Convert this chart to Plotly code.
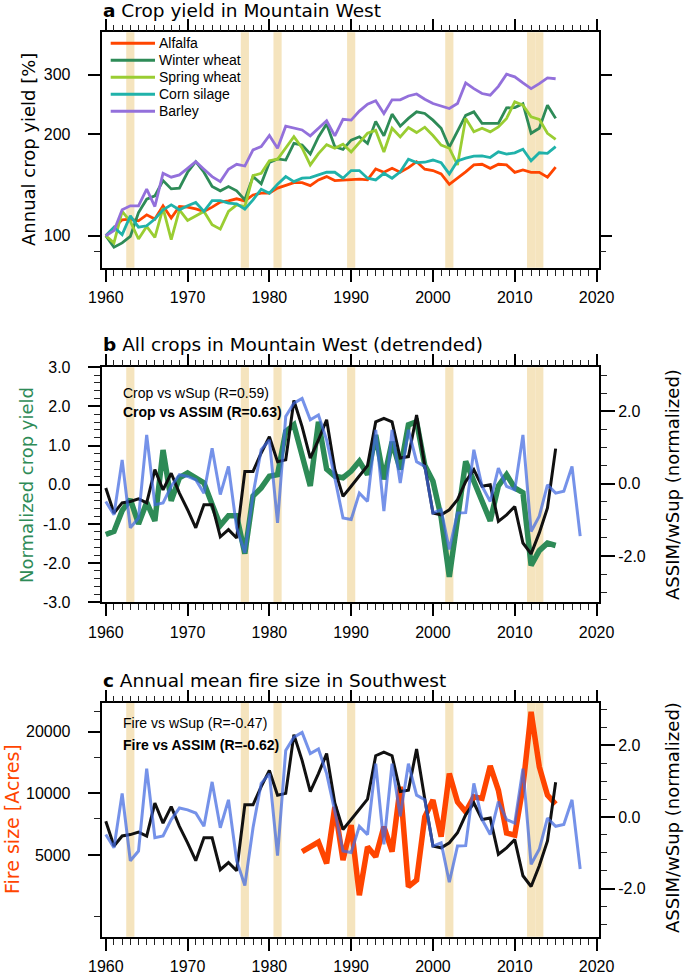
import plotly.graph_objects as go

# ---------------- data ----------------
years = list(range(1960, 2016))
years_wsup = list(range(1960, 2019))
years_fire = list(range(1984, 2016))

crop_names = ["Alfalfa", "Winter wheat", "Spring wheat", "Corn silage", "Barley"]
crop_colors = ["#FF4500", "#2E8B57", "#9ACD32", "#20B2AA", "#9370DB"]

alfalfa = [100, 105.4, 111.5, 112, 110.7, 115.3, 112, 122.6, 112.8, 122, 121.5, 120, 118, 121.5,
           125.7, 126.8, 128.6, 126.8, 132, 133.6, 133.6, 138.3, 140.7, 143.6, 143.6, 140.7, 146.3,
           149.6, 145.6, 146.3, 146.6, 147, 146.3, 157.6, 154.1, 158.3, 154.1, 159, 165.6, 157.3,
           155.9, 152.4, 142, 148, 154.6, 162, 162.7, 158.3, 162.7, 162, 154, 156.5, 154, 154, 149, 159.6]
winter_wheat = [100, 92.4, 95.2, 99.5, 117.1, 128.3, 131.2, 145.6, 137.6, 138.3, 154.1, 165.6, 154.1,
                139.8, 135.8, 139.8, 135.8, 127.7, 149.6, 142.4, 164.6, 168.8, 167.5, 187.6, 185.4,
                174.5, 196, 214, 183.5, 180, 191.9, 196.3, 187.6, 218, 197.5, 229, 211, 222.5, 232.6,
                230, 219.8, 208, 182.8, 204, 227, 232.6, 215, 215, 215, 239, 239.5, 246, 201, 208,
                243.5, 222.5]
spring_wheat = [100, 95.2, 118, 110.2, 97.8, 106.5, 98.9, 120.7, 97.3, 119.3, 111, 114.5, 118, 107.8,
                104.6, 118, 123.4, 122, 150.6, 153, 166.7, 168.4, 181.5, 196.3, 181.9, 162, 175, 186,
                181.5, 186.5, 177, 189, 201, 205, 177, 208, 196, 209, 202, 209.5, 198, 185.4, 181.5,
                162, 222.5, 203, 208, 203, 210, 222.5, 249, 243.5, 225, 221, 201, 192.9]
corn_silage = [100, 106, 100.7, 114.5, 106, 107, 112, 119.3, 123.4, 119.3, 122.6, 125.4, 118, 127, 127,
               124.9, 124.3, 119.9, 127.7, 137.3, 133.6, 142, 149.6, 144.6, 148, 148.6, 151.4, 154.1,
               154.1, 148, 155.9, 155.9, 148, 146.3, 153, 148, 154.6, 168.4, 164.6, 165, 167.5, 164.6,
               152.4, 166.4, 169.6, 172, 172.4, 170.4, 177.1, 174.5, 176, 180.4, 166.7, 176, 175.3, 183.6]
barley = [100, 103.5, 119.3, 122.6, 122.6, 137.3, 122, 153, 149, 151.4, 158.3, 165.6, 157.3, 149.6,
          144.6, 157.3, 162.7, 160.8, 179.4, 183.6, 198, 181.5, 211, 208, 205.6, 197.5, 208, 218.8,
          197.5, 221, 219.8, 233.8, 245, 250.8, 230, 252.4, 252.4, 259.2, 262.8, 253.5, 246.2, 241.9,
          238, 246.2, 283.3, 272.4, 263.6, 260.6, 276.8, 300.6, 295.3, 283.3, 272.4, 281.9, 293.3, 291.5]
crop_series = [alfalfa, winter_wheat, spring_wheat, corn_silage, barley]

crop_norm = [-1.27, -1.19, -0.66, -0.37, -1.0, -0.45, -0.92, 0.89, -0.41, 0.18, 0.3, 0.18, 0.05, -0.5,
             -1.04, -0.79, -0.79, -1.76, -0.29, -0.08, 0.22, 0.26, 1.36, 1.53, 0.68, -0.03, 1.61, 0.4,
             0.22, 0.18, 0.35, 0.6, 0.26, 1.27, 0.14, 1.1, 0.39, 1.53, 1.61, 0.5, 0.09, -0.83, -2.35,
             -0.75, 0.6, 0.09, -0.41, -0.92, -0.03, 0.26, -0.08, -0.2, -2.06, -1.68, -1.49, -1.55]
assim = [-0.12, -0.81, -0.53, -0.49, -0.42, -0.53, 0.39, -0.17, 0.29, -0.26, -0.72, -1.22, -0.58, -0.58,
         -1.47, -1.27, -1.50, 0.34, 0.34, 0.85, 1.30, 0.61, 0.66, 2.30, 1.58, 0.71, 1.21, 1.77, 0.39,
         -0.35, -0.07, 0.2, 0.5, 1.71, 1.81, 1.71, 0.71, 0.75, 1.90, 0.5, -0.81, -0.86, -0.72, -0.44,
         0.06, 0.39, -0.07, -0.03, -1.04, -0.86, -0.63, -1.64, -1.94, -1.36, -0.67, 0.97]
wsup = [-0.49, -0.86, 0.66, -1.22, -0.95, 1.35, -0.58, -0.53, -0.07, 0.25, 0.2, 0.11, -0.26, 0.98, -0.3,
        0.48, -1.22, -1.91, -0.3, 0.94, 1.21, -1.08, 1.86, 2.23, 2.36, 1.77, 1.90, 1.21, 0.16, -0.95,
        -0.99, -0.26, -0.49, 1.49, -0.76, 1.49, 0.02, 1.49, 0.61, 0.48, -0.81, -0.72, -1.82, -0.81, -0.8,
        0.94, -0.07, -0.49, 0.43, -0.07, -0.17, 1.35, -1.32, -0.9, -0.03, -0.26, -0.21, 0.48, -1.45]
fire_size = [5190, 5480, 5780, 4550, 8590, 4720, 7000, 3180, 5480, 4900, 6870, 5190, 10770, 3500, 3770,
             7680, 9280, 6140, 12510, 9090, 8130, 9620, 9450, 13620, 10360, 6410, 6260, 10770, 25010,
             13510, 9800, 8870]

drought_years = [1963, 1977, 1981, 1990, 2002, 2012, 2013]

x_ticks = [1960, 1970, 1980, 1990, 2000, 2010, 2020]
a_yticks = [100, 200, 300]
a_yminor = [90]
b_left_ticks = [-3, -2, -1, 0, 1, 2, 3]
right_ticks = [-2, 0, 2]
c_yticks = [5000, 10000, 20000]
c_yminor = [2500, 7500, 15000, 25000]

# ---------------- layout helpers ----------------
W, H = 685, 974


def fx(p):
    return p / W


def fy(p):
    return 1 - p / H


X_DOM = [fx(101.7), fx(599)]
A_DOM = [fy(267.7), fy(32.3)]
B_DOM = [fy(602.3), fy(367.3)]
C_DOM = [fy(936.7), fy(702.7)]
X_RANGE = [1959.5, 2020.3]

TICKFONT = dict(family="Liberation Sans, Arial, sans-serif", size=16, color="black")
TITLEFONT = "DejaVu Sans, sans-serif"
GREEN = "#2E8B57"
RED = "#FF4500"
BLUE = "#4169E1"
BAND = "#F5E4BE"

minor_style = dict(ticks="outside", ticklen=6, tickwidth=1.3, tickcolor="#222", showgrid=False)


def xaxis_cfg(anchor, top=False, overlay=None):
    d = dict(domain=X_DOM, range=X_RANGE, anchor=anchor, automargin=False,
             tickmode="array", tickvals=x_ticks, ticktext=[str(v) for v in x_ticks],
             ticks="outside", ticklen=12, tickwidth=2, tickcolor="black",
             showgrid=False, zeroline=False, tickfont=TICKFONT, ticklabelstandoff=2,
             minor=dict(tickmode="linear", tick0=1960, dtick=1, **minor_style))
    if top:
        d.update(side="top", overlaying=overlay, showticklabels=False, showline=False)
    else:
        d.update(showline=True, linewidth=2, linecolor="black", mirror=True)
    return d


def yaxis_cfg(domain, anchor, **kw):
    d = dict(domain=domain, anchor=anchor, ticks="outside", ticklen=12, tickwidth=2,
             tickcolor="black", showline=True, linewidth=2, linecolor="black", automargin=False,
             showgrid=False, zeroline=False, tickfont=TICKFONT, ticklabelstandoff=14)
    d.update(kw)
    return d


fig = go.Figure()

# Panel a
for name, vals, col in zip(crop_names, crop_series, crop_colors):
    fig.add_trace(go.Scatter(x=years, y=vals, mode="lines", name=name,
                             line=dict(color=col, width=2.8), xaxis="x", yaxis="y",
                             showlegend=False))

# Panel b
fig.add_trace(go.Scatter(x=years, y=crop_norm, mode="lines", line=dict(color=GREEN, width=5.5),
                         xaxis="x2", yaxis="y2", showlegend=False))
fig.add_trace(go.Scatter(x=years, y=assim, mode="lines", line=dict(color="#111111", width=3),
                         xaxis="x2", yaxis="y3", showlegend=False))
fig.add_trace(go.Scatter(x=years_wsup, y=wsup, mode="lines", line=dict(color=BLUE, width=3),
                         opacity=0.72, xaxis="x2", yaxis="y3", showlegend=False))

# Panel c
fig.add_trace(go.Scatter(x=years_fire, y=fire_size, mode="lines", line=dict(color=RED, width=5.5),
                         xaxis="x3", yaxis="y4", showlegend=False))
fig.add_trace(go.Scatter(x=years, y=assim, mode="lines", line=dict(color="#111111", width=3),
                         xaxis="x3", yaxis="y5", showlegend=False))
fig.add_trace(go.Scatter(x=years_wsup, y=wsup, mode="lines", line=dict(color=BLUE, width=3),
                         opacity=0.72, xaxis="x3", yaxis="y5", showlegend=False))

# empty traces that carry the mirrored tick axes (top x axes, right y axis of panel a)
for xa, ya in [("x4", "y"), ("x5", "y2"), ("x6", "y4"), ("x", "y6")]:
    fig.add_trace(go.Scatter(x=[None], y=[None], mode="lines", xaxis=xa, yaxis=ya,
                             showlegend=False, hoverinfo="skip"))

# drought bands
shapes = []
for xr, yr in [("x", "y"), ("x2", "y2"), ("x3", "y4")]:
    for yrv in drought_years:
        shapes.append(dict(type="rect", xref=xr, yref=yr + " domain", x0=yrv - 0.5, x1=yrv + 0.5,
                           y0=0, y1=1, fillcolor=BAND, line=dict(width=0), layer="below"))

# manual legend for panel a
annotations = []
for i, (name, col) in enumerate(zip(crop_names, crop_colors)):
    yrow = 43.3 + i * 17
    shapes.append(dict(type="line", xref="paper", yref="paper", x0=fx(110.7), x1=fx(155),
                       y0=fy(yrow), y1=fy(yrow), line=dict(color=col, width=3)))
    annotations.append(dict(text=name, xref="paper", yref="paper", x=fx(157), y=fy(yrow),
                            xanchor="left", yanchor="middle", showarrow=False,
                            font=dict(family="Liberation Sans, Arial", size=14, color="black")))

# panel titles
for txt, ypix in [("<b>a</b> Crop yield in Mountain West", 11),
                  ("<b>b</b> All crops in Mountain West (detrended)", 344.5),
                  ("<b>c</b> Annual mean fire size in Southwest", 680.5)]:
    annotations.append(dict(text=txt, xref="paper", yref="paper", x=fx(100.5), y=fy(ypix),
                            xanchor="left", yanchor="middle", showarrow=False,
                            font=dict(family=TITLEFONT, size=18.5, color="black")))

# correlation text
for txt, ypix in [("Crop vs wSup (R=0.59)", 393.3), ("<b>Crop vs ASSIM (R=0.63)</b>", 411.7),
                  ("Fire vs wSup (R=-0.47)", 722.7), ("<b>Fire vs ASSIM (R=-0.62)</b>", 745)]:
    annotations.append(dict(text=txt, xref="paper", yref="paper", x=fx(120.5), y=fy(ypix),
                            xanchor="left", yanchor="middle", showarrow=False,
                            font=dict(family="Liberation Sans, Arial", size=14, color="black")))

# axis titles
for txt, xpix, ypix, col, size in [("Annual crop yield [%]", 28, 150, "black", 18),
                                   ("Normalized crop yield", 26, 485, GREEN, 18),
                                   ("Fire size [Acres]", 12, 819, RED, 19),
                                   ("ASSIM/wSup (normalized)", 672, 485, "black", 18),
                                   ("ASSIM/wSup (normalized)", 672, 818, "black", 18)]:
    annotations.append(dict(text=txt, xref="paper", yref="paper", x=fx(xpix), y=fy(ypix),
                            xanchor="center", yanchor="middle", textangle=-90, showarrow=False,
                            font=dict(family=TITLEFONT, size=size, color=col)))

fig.update_layout(
    width=W, height=H, margin=dict(l=0, r=0, t=0, b=0, autoexpand=False),
    paper_bgcolor="white", plot_bgcolor="white", showlegend=False,
    xaxis=xaxis_cfg("y"),
    xaxis2=xaxis_cfg("y2"),
    xaxis3=xaxis_cfg("y4"),
    xaxis4=xaxis_cfg("y", top=True, overlay="x"),
    xaxis5=xaxis_cfg("y2", top=True, overlay="x2"),
    xaxis6=xaxis_cfg("y4", top=True, overlay="x3"),
    yaxis=yaxis_cfg(A_DOM, "x", type="log", range=[1.9053, 2.6021], mirror=True,
                    tickmode="array", tickvals=a_yticks, ticktext=[str(v) for v in a_yticks],
                    minor=dict(tickmode="array", tickvals=a_yminor, **minor_style)),
    yaxis6=yaxis_cfg(A_DOM, "x", type="log", range=[1.9053, 2.6021], overlaying="y",
                     side="right", showline=False, showticklabels=False,
                     tickmode="array", tickvals=a_yticks,
                     minor=dict(tickmode="array", tickvals=a_yminor, **minor_style)),
    yaxis2=yaxis_cfg(B_DOM, "x2", range=[-3, 3], tickmode="array", tickvals=b_left_ticks,
                     ticktext=[f"{v:.1f}" for v in b_left_ticks],
                     minor=dict(tickmode="linear", tick0=0, dtick=0.2, **minor_style)),
    yaxis3=yaxis_cfg(B_DOM, "x2", overlaying="y2", side="right", range=[-3.28, 3.22],
                     tickmode="array", tickvals=right_ticks, ticklabelstandoff=0,
                     ticktext=[f"{v:.1f}" for v in right_ticks], ticklen=14,
                     minor=dict(tickmode="linear", tick0=0, dtick=0.5, **minor_style)),
    yaxis4=yaxis_cfg(C_DOM, "x3", type="log", range=[3.300, 4.443], tickmode="array",
                     tickvals=c_yticks, ticktext=[str(v) for v in c_yticks],
                     minor=dict(tickmode="array", tickvals=c_yminor, **minor_style)),
    yaxis5=yaxis_cfg(C_DOM, "x3", overlaying="y4", side="right", range=[-3.34, 3.19],
                     tickmode="array", tickvals=right_ticks, ticklabelstandoff=0,
                     ticktext=[f"{v:.1f}" for v in right_ticks], ticklen=14,
                     minor=dict(tickmode="linear", tick0=0, dtick=0.5, **minor_style)),
    shapes=shapes,
    annotations=annotations,
)

fig.write_html("out.html", config={"displayModeBar": False},
               post_script="document.body.style.margin='0px';document.body.style.overflow='hidden';")
